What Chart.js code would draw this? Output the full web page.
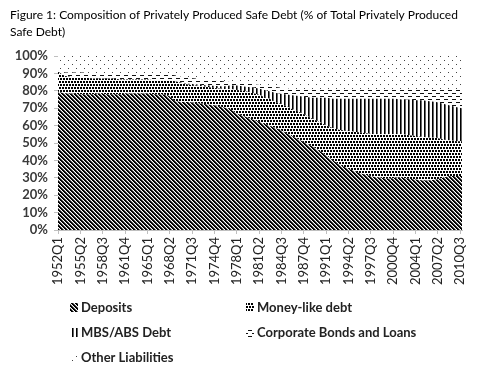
<!DOCTYPE html>
<html>
<head>
<meta charset="utf-8">
<script src="https://cdn.jsdelivr.net/npm/chart.js@4.4.1/dist/chart.umd.min.js"></script>
<style>
  html, body { margin: 0; padding: 0; background: #fff; }
</style>
</head>
<body>
<canvas id="chart" width="488" height="374"></canvas>
<script>
// Year of each observation (first quarter of each year, last point 2010Q4)
const years = [1952, 1953, 1954, 1955, 1956, 1957, 1958, 1959, 1960, 1961,
  1962, 1963, 1964, 1965, 1966, 1967, 1968, 1969, 1970, 1971,
  1972, 1973, 1974, 1975, 1976, 1977, 1978, 1979, 1980, 1981,
  1982, 1983, 1984, 1985, 1986, 1987, 1988, 1989, 1990, 1991,
  1992, 1993, 1994, 1995, 1996, 1997, 1998, 1999, 2000, 2001,
  2002, 2003, 2004, 2005, 2006, 2007, 2008, 2009, 2010, 2010.75];

// Shares of total privately produced safe debt (%)
const deposits = [79.5, 78.5, 78.5, 78, 78, 78, 78.5, 78, 78, 78,
  78.5, 78.5, 78.5, 78.5, 78, 78, 77.5, 74, 73.5, 73.5,
  73, 72.5, 72, 71.5, 70.5, 69.5, 67, 65.5, 64, 62.5,
  61, 59.5, 58, 56, 54, 52, 50, 48, 45.5, 43,
  40, 37.5, 35.5, 34, 32.5, 31.5, 30.5, 30, 29.5, 30,
  30, 29.5, 29, 28.5, 28.5, 29, 30, 31, 31, 31];
const moneyLike = [11.5, 10, 9.5, 9.5, 9.5, 9, 8.5, 9, 9, 8.5,
  8, 8, 8, 8, 8, 8, 8.5, 11.5, 11, 10,
  10, 10, 10, 10, 10.5, 11.5, 13.5, 14.5, 15, 15.5,
  15.5, 15.5, 15, 15.5, 15.5, 16, 16, 16, 16.5, 17,
  18.5, 20, 21.5, 22.5, 23.5, 24, 24.5, 25, 25.5, 25,
  25, 25, 25, 25, 24.5, 24, 22, 20.5, 20, 20];
const mbsAbs = [0, 0, 0, 0, 0, 0, 0, 0, 0, 0,
  0, 0, 0, 0, 0, 0, 0, 0, 0.3, 0.5,
  0.7, 0.8, 1, 1.2, 1.5, 2, 2.5, 2.5, 3, 3.5,
  4, 4.5, 5.5, 6.5, 8, 9, 10.5, 12, 14, 16,
  17, 18, 18.5, 19, 19.5, 20, 20.5, 20.5, 20.5, 20.5,
  20, 20.5, 20.5, 21, 21, 20.5, 20.5, 20, 19.5, 19];
const corporate = [1, 2, 2.5, 3, 3, 3, 3, 3, 3, 3.5,
  3.5, 3, 3, 3, 3.5, 3.5, 3.5, 3.5, 3.2, 3.5,
  3.3, 3.2, 3.5, 3.3, 3, 2, 2, 2, 2, 2,
  2.5, 3, 3.5, 3.5, 3.5, 4, 4, 4.5, 4.5, 4.5,
  5, 5, 5, 5, 5, 5, 5, 5, 5, 5,
  5.5, 5.5, 6, 6, 6.5, 7, 8, 9, 10, 10.5];
const other = [8, 9.5, 9.5, 9.5, 9.5, 10, 10, 10, 10, 10,
  10, 10.5, 10.5, 10.5, 10.5, 10.5, 10.5, 11, 12, 12.5,
  13, 13.5, 13.5, 14, 14.5, 15, 15, 15.5, 16, 16.5,
  17, 17.5, 18, 18.5, 19, 19, 19.5, 19.5, 19.5, 19.5,
  19.5, 19.5, 19.5, 19.5, 19.5, 19.5, 19.5, 19.5, 19.5, 19.5,
  19.5, 19.5, 19.5, 19.5, 19.5, 19.5, 19.5, 19.5, 19.5, 19.5];

const seriesNames = ['Deposits', 'Money-like debt', 'MBS/ABS Debt', 'Corporate Bonds and Loans', 'Other Liabilities'];
const tickLabels = ['1952Q1', '1955Q2', '1958Q3', '1961Q4', '1965Q1', '1968Q2', '1971Q3',
  '1974Q4', '1978Q1', '1981Q2', '1984Q3', '1987Q4', '1991Q1', '1994Q2', '1997Q3',
  '2000Q4', '2004Q1', '2007Q2', '2010Q3'];
const titleLines = ['Figure 1: Composition of Privately Produced Safe Debt (% of Total Privately Produced', 'Safe Debt)'];

const canvas = document.getElementById('chart');
const ctx = canvas.getContext('2d');

// black & white fill patterns, like the original Excel chart
function makePattern(w, h, draw) {
  const tile = document.createElement('canvas');
  tile.width = w;
  tile.height = h;
  const g = tile.getContext('2d');
  g.fillStyle = '#fff';
  g.fillRect(0, 0, w, h);
  g.fillStyle = '#000';
  draw(g);
  return ctx.createPattern(tile, 'repeat');
}

const depositsFill = makePattern(4, 4, function(g) {
  for (let i = 0; i < 4; i++) {
    g.fillStyle = '#000';
    g.fillRect(i, i, 1, 1);
    g.fillRect((i + 1) % 4, i, 1, 1);
    g.fillStyle = '#777';
    g.fillRect((i + 2) % 4, i, 1, 1);
  }
});
const moneyFill = makePattern(6, 6, function(g) {
  g.fillRect(0, 0, 2, 2);
  g.fillRect(3, 0, 2, 2);
  g.fillRect(2, 3, 2, 2);
  g.fillRect(5, 3, 1, 2);
  g.fillRect(0, 3, 1, 2);
});
const mbsFill = makePattern(4, 4, function(g) {
  g.fillRect(0, 0, 1, 4);
  g.fillStyle = '#666';
  g.fillRect(1, 0, 1, 4);
});
const corpFill = makePattern(8, 6, function(g) {
  g.fillStyle = '#111';
  g.fillRect(0, 0, 4, 1);
  g.fillRect(4, 3, 4, 1);
});
const otherFill = makePattern(8, 8, function(g) {
  g.fillStyle = '#444';
  g.fillRect(0, 0, 1, 1);
  g.fillRect(4, 4, 1, 1);
});

const fills = [depositsFill, moneyFill, mbsFill, corpFill, otherFill];
const values = [deposits, moneyLike, mbsAbs, corporate, other];

function tickPos(label) {
  return parseInt(label.slice(0, 4)) + (parseInt(label.slice(5)) - 1) / 4;
}

const datasets = values.map(function(vals, k) {
  return {
    label: seriesNames[k],
    data: vals.map(function(v, i) { return { x: years[i], y: v }; }),
    backgroundColor: fills[k],
    borderWidth: 0,
    pointRadius: 0,
    fill: k === 0 ? 'origin' : '-1',
    tension: 0
  };
});

// title and two-column legend drawn by hand
const decorations = {
  id: 'decorations',
  afterDraw: function(chart) {
    const c = chart.ctx;
    c.save();
    c.fillStyle = '#000';
    c.font = '12px Lato';
    c.textBaseline = 'middle';
    c.textAlign = 'left';
    c.fillText(titleLines[0], 10, 15);
    c.fillText(titleLines[1], 10, 32);

    const cols = [70, 246];
    const rows = [308, 333, 358];
    c.font = 'bold 13px Lato';
    seriesNames.forEach(function(name, k) {
      const x = cols[k % 2];
      const y = rows[Math.floor(k / 2)];
      c.fillStyle = fills[k];
      c.fillRect(x, y - 5, 8, 9);
      c.fillStyle = '#222';
      c.fillText(name, x + 11, y);
    });
    c.restore();
  }
};

new Chart(ctx, {
  type: 'line',
  data: { datasets: datasets },
  options: {
    responsive: false,
    animation: false,
    layout: { padding: { top: 56, right: 26, left: 0, bottom: 0 } },
    plugins: {
      legend: { display: false },
      tooltip: { enabled: false }
    },
    scales: {
      x: {
        type: 'linear',
        min: 1952,
        max: 2010.75,
        afterBuildTicks: function(scale) {
          scale.ticks = tickLabels.map(function(l) { return { value: tickPos(l) }; });
        },
        afterFit: function(scale) { scale.height = 144; },
        grid: { drawOnChartArea: false, color: '#bfbfbf', tickLength: 4 },
        border: { color: '#bfbfbf' },
        ticks: {
          autoSkip: false,
          maxRotation: 90,
          minRotation: 90,
          padding: 3,
          color: '#222',
          font: { family: 'Lato', size: 13 },
          callback: function(v, i) { return tickLabels[i]; }
        }
      },
      y: {
        stacked: true,
        min: 0,
        max: 100,
        afterFit: function(scale) { scale.width = 58; },
        grid: { drawOnChartArea: false, color: '#bfbfbf', tickLength: 4 },
        border: { color: '#bfbfbf' },
        ticks: {
          stepSize: 10,
          autoSkip: false,
          padding: 6,
          color: '#3a3a3a',
          font: { family: 'Lato', size: 13, weight: 'bold' },
          callback: function(v) { return v + '%'; }
        }
      }
    }
  },
  plugins: [decorations]
});
</script>
</body>
</html>
